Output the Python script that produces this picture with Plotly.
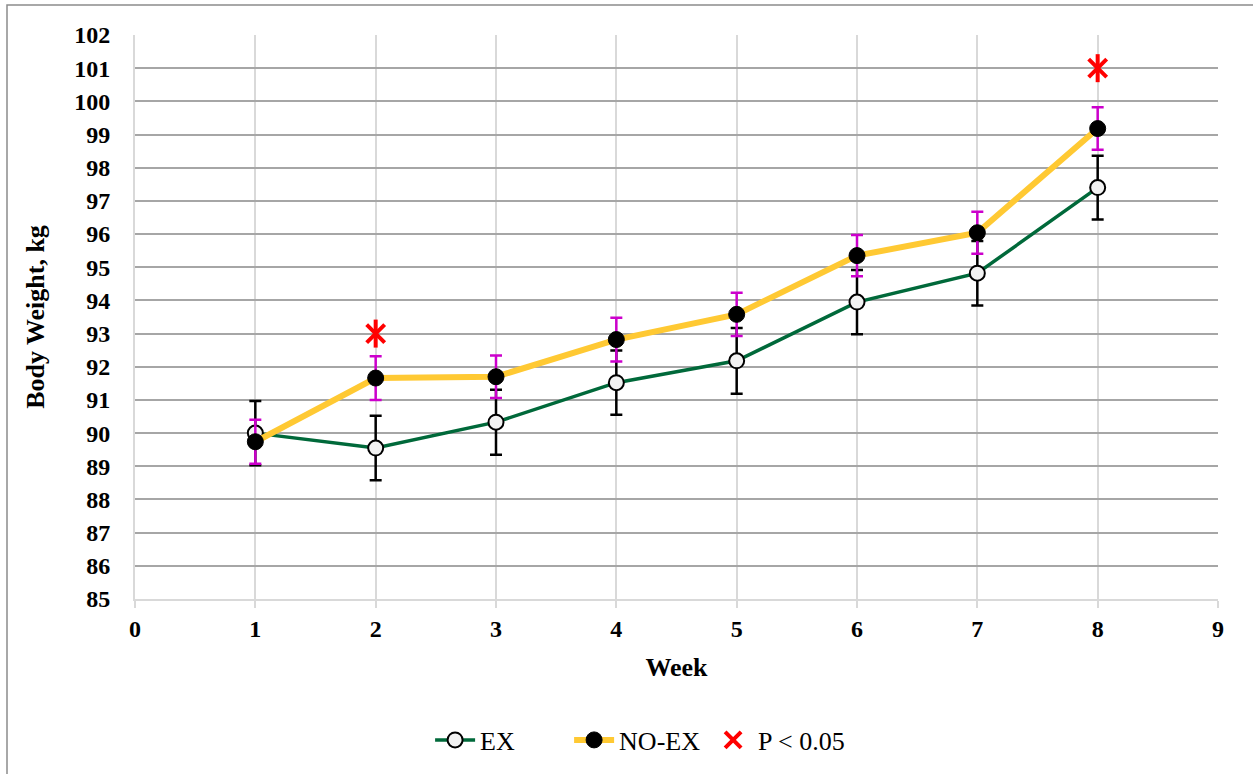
import plotly.graph_objects as go

weeks = [1, 2, 3, 4, 5, 6, 7, 8]
ex_mean = [90.00, 89.55, 90.33, 91.52, 92.18, 93.95, 94.82, 97.40]
ex_err = [0.97, 0.97, 0.98, 0.97, 0.99, 0.97, 0.97, 0.96]
noex_mean = [89.74, 91.66, 91.70, 92.82, 93.58, 95.35, 96.04, 99.18]
noex_err = [0.66, 0.66, 0.64, 0.66, 0.65, 0.62, 0.63, 0.64]
sig_weeks = [2, 8]
sig_y = [93.0, 101.0]

FONT = "Liberation Serif, Times New Roman, serif"

fig = go.Figure()

fig.add_trace(go.Scatter(
    x=weeks, y=ex_mean, name="EX", mode="lines+markers",
    line=dict(color="#00693a", width=3.5),
    marker=dict(symbol="circle", size=15, color="#f2f2f2",
                line=dict(color="#000000", width=2)),
    error_y=dict(type="data", array=ex_err, visible=True,
                 color="#000000", thickness=2.5, width=6),
))
fig.add_trace(go.Scatter(
    x=weeks, y=noex_mean, name="NO-EX", mode="lines+markers",
    line=dict(color="#ffc933", width=6),
    marker=dict(symbol="circle", size=16, color="#000000",
                line=dict(color="#000000", width=1)),
    error_y=dict(type="data", array=noex_err, visible=True,
                 color="#cc00cc", thickness=2.5, width=6),
))
fig.add_trace(go.Scatter(
    x=sig_weeks, y=sig_y, name="P < 0.05", mode="markers",
    marker=dict(symbol="x-thin-open", size=18, color="#ff0000",
                line=dict(color="#ff0000", width=4)),
))
fig.add_trace(go.Scatter(
    x=sig_weeks, y=sig_y, name="P < 0.05", mode="markers", showlegend=False,
    marker=dict(symbol="line-ns-open", size=20, color="#ff0000",
                line=dict(color="#ff0000", width=4)),
))

W, H = 1253, 774
ml, mr, mt, mb = 135, 35, 35, 175
pw, ph = W - ml - mr, H - mt - mb

fig.update_layout(
    width=W, height=H,
    margin=dict(l=ml, r=mr, t=mt, b=mb, autoexpand=False),
    paper_bgcolor="white", plot_bgcolor="white",
    font=dict(family=FONT, color="#000000", size=24),
    showlegend=True,
    legend=dict(orientation="h", x=0.465, xanchor="center",
                y=-(740 - (H - mb)) / ph, yanchor="middle",
                font=dict(family=FONT, size=26, color="#000000"),
                itemwidth=40, tracegroupgap=0,
                entrywidth=84, entrywidthmode="pixels"),
    shapes=[dict(type="rect", xref="paper", yref="paper",
                 x0=(7 - ml) / pw, x1=(W + 10 - ml) / pw,
                 y0=-(H + 10 - (H - mb)) / ph, y1=1 + (mt - 5) / ph,
                 line=dict(color="#8c8c8c", width=1.5), layer="below")],
)

fig.update_xaxes(
    range=[0, 9], dtick=1, tick0=0,
    showgrid=True, gridcolor="#d9d9d9", gridwidth=2,
    showline=True, linecolor="#d9d9d9", linewidth=2,
    ticks="outside", ticklen=7, tickcolor="#d9d9d9", tickwidth=2,
    zeroline=False,
    tickfont=dict(family=FONT, size=24, color="#000000", weight="bold"),
    title=dict(text="<b>Week</b>", font=dict(family=FONT, size=26), standoff=17),
)
fig.update_yaxes(
    range=[85, 102], dtick=1, tick0=85,
    showgrid=True, gridcolor="#a6a6a6", gridwidth=2,
    showline=True, linecolor="#d9d9d9", linewidth=2,
    ticks="", zeroline=False,
    tickfont=dict(family=FONT, size=24, color="#000000", weight="bold"),
    ticklabelstandoff=18,
    title=dict(text="<b>Body Weight, kg</b>", font=dict(family=FONT, size=26), standoff=22),
)

fig.write_html("out.html")
